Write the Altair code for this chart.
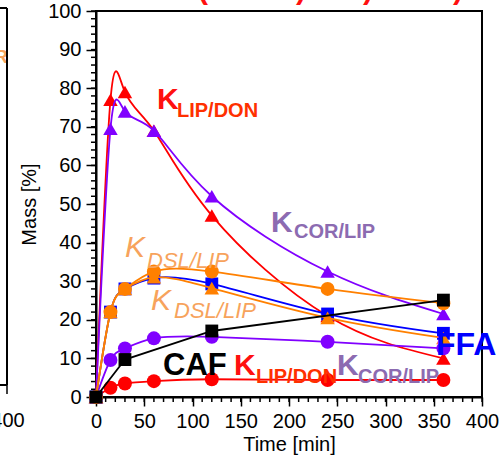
import altair as alt
import pandas as pd

# ---- data ----
times = [0, 15, 30, 60, 120, 240, 360]
lip_don_tri = [0, 77, 79, 69, 47, 21, 10]
cor_lip_tri = [0, 69.5, 74, 69, 52, 32.5, 21.5]
lip_don_circ = [0, 2.4, 3.5, 4.1, 4.6, 4.4, 4.4]
cor_lip_circ = [0, 9.6, 12.6, 15.2, 15.6, 14.3, 12.6]
ffa_sq = [0, 22, 28, 30.8, 29.3, 21.5, 16.5]
dsl_lip_tri = [0, 22, 28, 31, 28.2, 20.5, 15.3]
dsl_lip_circ = [0, 22, 28, 32.5, 32.5, 28, 24.3]
caf_times = [0, 30, 120, 360]
caf_sq = [0, 9.7, 17.1, 25.1]

x_major = list(range(0, 401, 50))
x_minor = list(range(0, 401, 10))
y_major = list(range(0, 101, 10))
y_minor = list(range(0, 101, 2))

FONT = "Liberation Sans"
OX, OY = 96, 11  # plot origin in page pixels
W, H = 386, 386

x_axis = alt.Axis(
    title="Time [min]", values=x_major, tickSize=9,
    labelFlush=False, labelOverlap=False, grid=False,
    domainColor="black", domainWidth=2, tickColor="black", tickWidth=1.5,
    labelFont=FONT, labelFontSize=20, labelColor="black", labelPadding=5,
    titleFont=FONT, titleFontSize=20, titleFontWeight="normal", titleColor="black",
    titlePadding=3,
)
y_axis = alt.Axis(
    title="Mass [%]", values=y_major, tickSize=10,
    labelFlush=False, labelOverlap=False, grid=False,
    domainColor="black", domainWidth=2, tickColor="black", tickWidth=1.5,
    labelFont=FONT, labelFontSize=20, labelColor="black", labelPadding=5,
    titleFont=FONT, titleFontSize=20, titleFontWeight="normal", titleColor="black",
    titlePadding=8,
)
xs = alt.Scale(domain=[0, 400], nice=False)
ys = alt.Scale(domain=[0, 100], nice=False)

series = [
    (times, lip_don_tri, "#FF0000", "triangle-up", 210, "natural"),
    (times, cor_lip_tri, "#8000FF", "triangle-up", 210, "natural"),
    (times, lip_don_circ, "#FF0000", "circle", 195, "natural"),
    (times, cor_lip_circ, "#8000FF", "circle", 195, "natural"),
    (times, ffa_sq, "#0000FF", "square", 165, "natural"),
    (times, dsl_lip_tri, "#FF8000", "triangle-up", 210, "natural"),
    (times, dsl_lip_circ, "#FF8000", "circle", 195, "natural"),
    (caf_times, caf_sq, "#000000", "square", 165, "linear"),
]

X = lambda f: alt.X(f, scale=xs, axis=x_axis)
Y = lambda f: alt.Y(f, scale=ys, axis=y_axis)

# minor ticks, drawn through the same scales
minor = [
    alt.Chart(pd.DataFrame({"m": x_minor})).mark_rule(color="black", strokeWidth=1.5).encode(
        x=X("m:Q"), y=alt.value(H), y2=alt.value(H + 5)),
    alt.Chart(pd.DataFrame({"m": y_minor})).mark_rule(color="black", strokeWidth=1.5).encode(
        y=Y("m:Q"), x=alt.value(0), x2=alt.value(-5)),
]

layers = []
for t, v, col, shape, size, interp in series:
    df = pd.DataFrame({"t": t, "v": v})
    base = alt.Chart(df)
    layers.append(base.mark_line(color=col, strokeWidth=1.8, interpolate=interp).encode(x=X("t:Q"), y=Y("v:Q")))
    layers.append(base.mark_point(color=col, filled=True, opacity=1, shape=shape, size=size).encode(x=X("t:Q"), y=Y("v:Q")))


def label(text, x_abs, y_abs, color, size, weight="bold", style="normal", align="left"):
    return alt.Chart(pd.DataFrame({"s": [text]})).mark_text(
        align=align, baseline="alphabetic", font=FONT, fontSize=size,
        fontWeight=weight, fontStyle=style, color=color,
    ).encode(x=alt.value(x_abs - OX), y=alt.value(y_abs - OY), text="s:N")


RED, RED2, LAV, ORL, BLUE = "#FF1010", "#FF3000", "#8C6BB1", "#F7A35C", "#0000FF"
labels = [
    label("K", 157, 109, RED, 30), label("LIP/DON", 177, 117, RED2, 20),
    label("K", 271, 232, LAV, 30), label("COR/LIP", 294, 238, LAV, 20),
    label("K", 125, 257, ORL, 30, "normal", "italic"),
    label("DSL/LIP", 147, 268, ORL, 22, "normal", "italic"),
    label("K", 151, 310, ORL, 30, "normal", "italic"),
    label("DSL/LIP", 174, 318, ORL, 22, "normal", "italic"),
    label("CAF", 163, 375, "black", 31),
    label("K", 234, 375, RED, 30), label("LIP/DON", 256, 383, RED2, 20),
    label("K", 337, 375, LAV, 30), label("COR/LIP", 358, 383, LAV, 20),
    label("FFA", 436, 355, BLUE, 32),
    # pieces of the neighbouring panels, cut by the frame of the picture
    label("LIP/COR", 8, 63, ORL, 19, align="right"),
    label("400", 8, 427, "black", 20, "normal", align="center"),
    label("(", 198, -1, RED, 30), label(")", 296, -1, RED, 30),
    label(")", 363, -1, RED, 30), label(")", 453, -1, RED, 30),
]

dummy = pd.DataFrame({"a": [0]})
frame_bits = [
    alt.Chart(dummy).mark_rule(color="black", strokeWidth=2).encode(
        x=alt.value(7 - OX), y=alt.value(8 - OY), y2=alt.value(385 - OY)),
    alt.Chart(dummy).mark_rule(color="black", strokeWidth=2).encode(
        x=alt.value(-120), x2=alt.value(7 - OX), y=alt.value(8 - OY)),
    alt.Chart(dummy).mark_rule(color="black", strokeWidth=2).encode(
        x=alt.value(-120), x2=alt.value(7 - OX), y=alt.value(385 - OY)),
    alt.Chart(dummy).mark_rule(color="black", strokeWidth=1.5).encode(
        x=alt.value(7 - OX), y=alt.value(385 - OY), y2=alt.value(394 - OY)),
]

chart = alt.layer(*minor, *layers, *labels, *frame_bits).properties(
    width=W, height=H,
    autosize=alt.AutoSizeParams(type="none"),
    padding={"left": OX, "top": OY, "right": 504 - OX - W, "bottom": 461 - OY - H},
    background="white",
).configure_view(stroke="black", strokeWidth=2)

chart.save("out.html", embed_options={"renderer": "svg", "actions": False})
